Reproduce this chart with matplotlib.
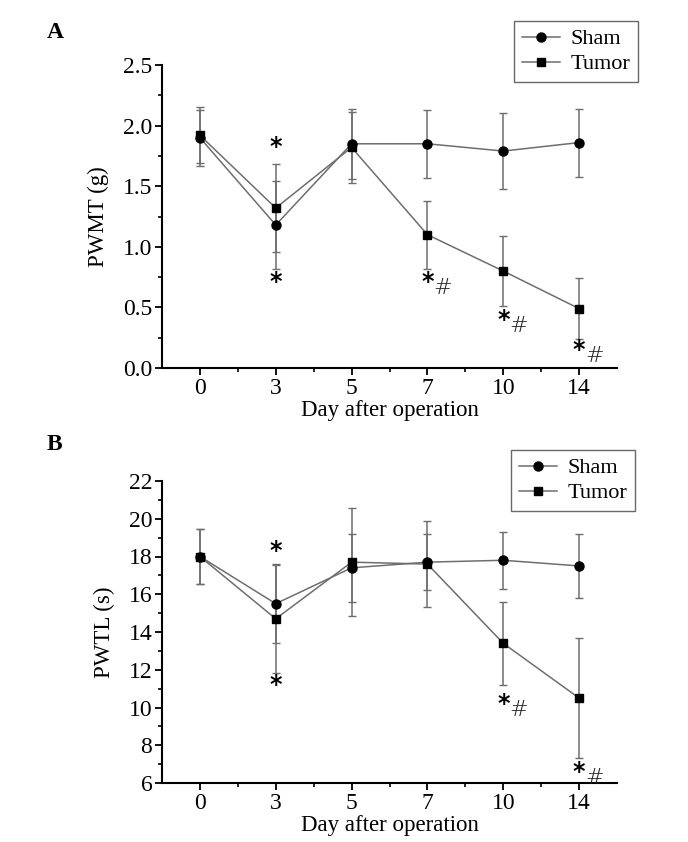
import numpy as np
import matplotlib
matplotlib.use('Agg')
import matplotlib.pyplot as plt
from matplotlib.ticker import MultipleLocator, FixedLocator, FormatStrFormatter
from matplotlib.lines import Line2D

plt.rcParams['font.family'] = ['Liberation Serif', 'DejaVu Serif']

days = ['0', '3', '5', '7', '10', '14']

# panel A - PWMT (g)
sham_a = [1.90, 1.18, 1.85, 1.85, 1.79, 1.86]
sham_a_err = [0.23, 0.36, 0.29, 0.28, 0.31, 0.28]
tumor_a = [1.92, 1.32, 1.82, 1.10, 0.80, 0.49]
tumor_a_err = [0.23, 0.36, 0.29, 0.28, 0.29, 0.25]

# panel B - PWTL (s)
sham_b = [18.0, 15.5, 17.4, 17.7, 17.8, 17.5]
sham_b_err = [1.45, 2.1, 1.8, 1.5, 1.5, 1.7]
tumor_b = [18.0, 14.7, 17.7, 17.6, 13.4, 10.5]
tumor_b_err = [1.45, 2.85, 2.87, 2.3, 2.2, 3.2]

# significance marks: (day index, y, star, hash)
marks_a = [(1, 1.82, '*', ''), (1, 0.71, '*', ''), (3, 0.71, '*', '#'),
           (4, 0.40, '*', '#'), (5, 0.15, '*', '#')]
marks_b = [(1, 18.3, '*', ''), (1, 11.2, '*', ''), (4, 10.2, '*', '#'),
           (5, 6.6, '*', '#')]

gray = '#6e6e6e'
W, H = 688, 842
fig = plt.figure(figsize=(W / 100, H / 100), dpi=100)
axA = fig.add_axes([162 / W, 1 - 368 / H, 455 / W, 303 / H])
axB = fig.add_axes([162 / W, 1 - 783 / H, 455 / W, 302 / H])

x = np.arange(len(days))


def panel(ax, sham, sham_err, tumor, tumor_err, marks, ylim, ystep, ylabel, legend_box):
    ax.errorbar(x, sham, yerr=sham_err, color=gray, lw=1.1, ecolor=gray, elinewidth=1.1,
                capsize=3, marker='o', ms=6.5, mfc='black', mec='black')
    ax.errorbar(x, tumor, yerr=tumor_err, color=gray, lw=1.1, ecolor=gray, elinewidth=1.1,
                capsize=3, marker='s', ms=6, mfc='black', mec='black')
    span = ylim[1] - ylim[0]
    for i, yv, star, hsh in marks:
        ax.text(x[i], yv, star, ha='center', va='center', fontsize=17, fontweight='bold',
                family='DejaVu Sans')
        if hsh:
            ax.text(x[i] + 0.08, yv - span * 0.02, hsh, ha='left', va='center',
                    fontsize=16, family='DejaVu Sans', fontweight='light', color='#222222')
    ax.set_xlim(-0.5, 5.5)
    ax.set_ylim(*ylim)
    ax.set_xticks(x)
    ax.set_xticklabels(days)
    ax.xaxis.set_minor_locator(FixedLocator(x[:-1] + 0.5))
    ax.yaxis.set_major_locator(MultipleLocator(ystep))
    ax.yaxis.set_minor_locator(MultipleLocator(ystep / 2))
    ax.spines['top'].set_visible(False)
    ax.spines['right'].set_visible(False)
    for s in ('left', 'bottom'):
        ax.spines[s].set_linewidth(1.5)
    ax.tick_params(which='major', direction='out', length=5, width=1.3, labelsize=17, pad=2)
    ax.tick_params(which='minor', direction='out', length=3, width=1.2)
    ax.set_xlabel('Day after operation', fontsize=16.5, labelpad=1)
    ax.set_ylabel(ylabel, fontsize=16.5, labelpad=10)
    handles = [Line2D([], [], color=gray, lw=1.1, marker='o', ms=6.5, mfc='black', mec='black'),
               Line2D([], [], color=gray, lw=1.1, marker='s', ms=6, mfc='black', mec='black')]
    leg = ax.legend(handles, ['Sham', 'Tumor'], loc='upper left', bbox_to_anchor=legend_box,
                    bbox_transform=fig.transFigure, fontsize=16, frameon=True, fancybox=False,
                    edgecolor='#444444', handlelength=1.7, handletextpad=0.5, borderpad=0.35,
                    labelspacing=0.2, borderaxespad=0)
    leg.get_frame().set_linewidth(1.0)


panel(axA, sham_a, sham_a_err, tumor_a, tumor_a_err, marks_a, (0, 2.5), 0.5, 'PWMT (g)',
      (514 / W, 1 - 21 / H))
axA.yaxis.set_major_formatter(FormatStrFormatter('%.1f'))
panel(axB, sham_b, sham_b_err, tumor_b, tumor_b_err, marks_b, (6, 22), 2, 'PWTL (s)',
      (511 / W, 1 - 450 / H))

fig.text(47 / W, 1 - 33 / H, 'A', fontsize=17, fontweight='bold', va='center')
fig.text(47 / W, 1 - 445 / H, 'B', fontsize=17, fontweight='bold', va='center')

fig.savefig('out.png', dpi=100)
